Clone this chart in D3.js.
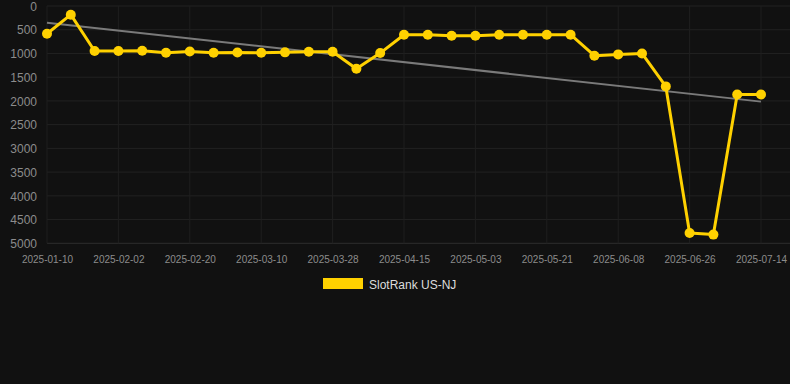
<!DOCTYPE html>
<html>
<head>
<meta charset="utf-8">
<script src="https://cdn.jsdelivr.net/npm/d3@7/dist/d3.min.js"></script>
<style>
html,body{margin:0;padding:0;background:#111111;}
svg{display:block;}
text{font-family:Arial, "Liberation Sans", sans-serif;}
</style>
</head>
<body>
<svg id="chart" width="790" height="384"></svg>
<script>
const categories = ["2025-01-10","2025-01-18","2025-01-26","2025-02-02","2025-02-08","2025-02-14","2025-02-20","2025-02-26","2025-03-04","2025-03-10","2025-03-16","2025-03-22","2025-03-28","2025-04-03","2025-04-09","2025-04-15","2025-04-21","2025-04-27","2025-05-03","2025-05-09","2025-05-15","2025-05-21","2025-05-27","2025-06-02","2025-06-08","2025-06-14","2025-06-20","2025-06-26","2025-07-02","2025-07-08","2025-07-14"];
const rankValues = [584,183,949,949,943,985,957,985,978,985,977,964,964,1322,992,605,605,626,626,605,605,605,605,1048,1020,999,1694,4782,4817,1863,1863];
const yTicks = [0,500,1000,1500,2000,2500,3000,3500,4000,4500,5000];
const seriesName = "SlotRank US-NJ";

const svg = d3.select("#chart");
const mLeft = 47, mRight = 761, mTop = 6, mBottom = 243.3, gridRight = 790;

const x = d3.scalePoint().domain(categories).range([mLeft, mRight]);
const y = d3.scaleLinear().domain([0, 5000]).range([mTop, mBottom]);

// horizontal grid
svg.append("g").selectAll("line").data(yTicks).join("line")
  .attr("x1", mLeft).attr("x2", gridRight)
  .attr("y1", d => y(d)).attr("y2", d => y(d))
  .attr("stroke", d => d === 5000 ? "#2e2e2e" : "#222222").attr("stroke-width", 1);

// vertical grid at labeled categories
const labeled = categories.filter((c, i) => i % 3 === 0);
svg.append("g").selectAll("line").data(labeled).join("line")
  .attr("x1", d => x(d)).attr("x2", d => x(d))
  .attr("y1", mTop).attr("y2", mBottom)
  .attr("stroke", "#1f1f1f").attr("stroke-width", 1);

// y axis labels
const yAxis = d3.axisLeft(y).tickValues(yTicks).tickFormat(d3.format("d")).tickSize(0).tickPadding(0);
const gy = svg.append("g").attr("transform", "translate(37,0)").call(yAxis);
gy.select(".domain").remove();
gy.selectAll("text").attr("fill", "#8c8c8c").attr("font-size", "12px").attr("dy", "0.35em");

// x axis labels
const xAxis = d3.axisBottom(x).tickValues(labeled).tickSize(0).tickPadding(0);
const gx = svg.append("g").attr("transform", `translate(0,${mBottom + 16})`).call(xAxis);
gx.select(".domain").remove();
gx.selectAll("text").attr("fill", "#8c8c8c").attr("font-size", "10px").attr("dy", "0.35em");

// trend line (least squares fit)
const n = rankValues.length;
const mx = d3.mean(rankValues, (d, i) => i);
const my = d3.mean(rankValues);
let num = 0, den = 0;
rankValues.forEach((v, i) => { num += (i - mx) * (v - my); den += (i - mx) * (i - mx); });
const slope = num / den, intercept = my - slope * mx;
svg.append("line")
  .attr("x1", x(categories[0])).attr("y1", y(intercept))
  .attr("x2", x(categories[n - 1])).attr("y2", y(intercept + slope * (n - 1)))
  .attr("stroke", "#7a7a7a").attr("stroke-width", 2);

// series line
const line = d3.line().x((d, i) => x(categories[i])).y(d => y(d));
svg.append("path").datum(rankValues)
  .attr("d", line).attr("fill", "none")
  .attr("stroke", "#FFD100").attr("stroke-width", 3).attr("stroke-linejoin", "round");

svg.append("g").selectAll("circle").data(rankValues).join("circle")
  .attr("cx", (d, i) => x(categories[i])).attr("cy", d => y(d))
  .attr("r", 5).attr("fill", "#FFD100");

// legend
svg.append("rect").attr("x", 323).attr("y", 278).attr("width", 40).attr("height", 11).attr("fill", "#FFD100");
svg.append("text").attr("x", 369).attr("y", 288.5).attr("fill", "#dddddd").attr("font-size", "12px").text(seriesName);
</script>
</body>
</html>
